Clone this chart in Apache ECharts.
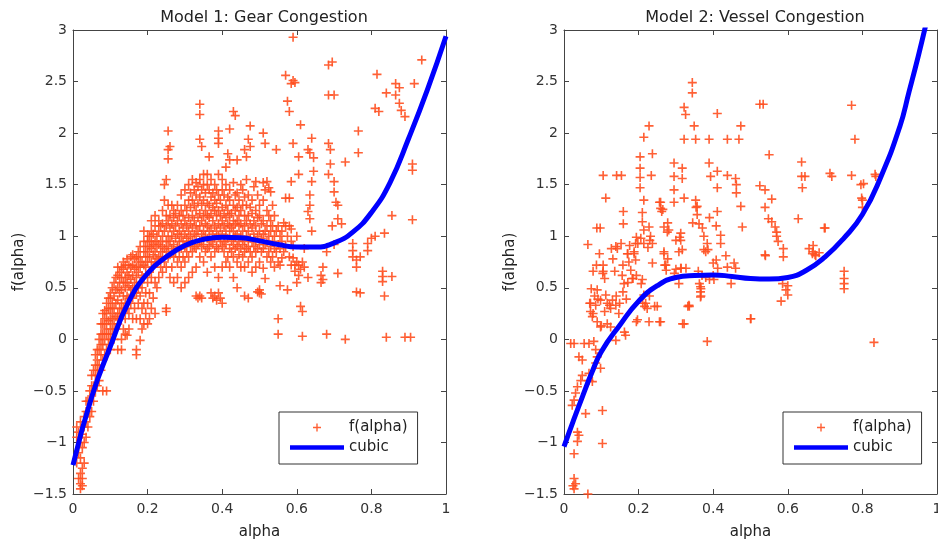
<!DOCTYPE html>
<html>
<head>
<meta charset="utf-8">
<script src="https://cdn.jsdelivr.net/npm/echarts@6/dist/echarts.min.js"></script>
<style>
html, body { margin: 0; padding: 0; background: #fff; }
#chart { width: 938px; height: 546px; }
</style>
</head>
<body>
<div id="chart"></div>
<script>
// titles / axes
var titles = ['Model 1: Gear Congestion', 'Model 2: Vessel Congestion'];
var xName = 'alpha', yName = 'f(alpha)';
var xTicks = [0, 0.2, 0.4, 0.6, 0.8, 1];
var yTicks = [-1.5, -1, -0.5, 0, 0.5, 1, 1.5, 2, 2.5, 3];

// Model 1 scatter, grouped by alpha column: [alpha, [f values]]
var gearCols = [
  [0.01, [-1.2, -0.95, -0.85]],
  [0.015, [-1.35, -1.1, -0.9]],
  [0.02, [-1.45, -1.4, -1.3, -1.15, -1.0, -0.8]],
  [0.025, [-1.42, -1.35, -1.25, -1.05, -0.92]],
  [0.03, [-1.2, -1.0, -0.85, -0.75]],
  [0.035, [-0.95, -0.8, -0.7, -0.6]],
  [0.04, [-0.85, -0.7, -0.6]],
  [0.045, [-0.75, -0.6, -0.5]],
  [0.05, [-0.7, -0.55, -0.45, -0.35]],
  [0.055, [-0.6, -0.45, -0.3]],
  [0.06, [-0.5, -0.35, -0.25, -0.15]],
  [0.065, [-0.45, -0.3, -0.2, -0.1]],
  [0.07, [-0.4, -0.25, -0.1, 0.0]],
  [0.075, [-0.3, -0.15, -0.05, 0.05, 0.15]],
  [0.08, [-0.5, -0.2, -0.05, 0.05, 0.15, 0.25]],
  [0.085, [-0.15, 0.0, 0.1, 0.2, 0.28]],
  [0.09, [-0.5, -0.1, 0.05, 0.15, 0.25, 0.35]],
  [0.095, [-0.05, 0.05, 0.18, 0.3, 0.4]],
  [0.1, [-0.1, 0.0, 0.1, 0.2, 0.3, 0.4, 0.45]],
  [0.105, [0.05, 0.15, 0.25, 0.35, 0.5]],
  [0.11, [0.0, 0.1, 0.2, 0.3, 0.42, 0.55]],
  [0.115, [0.1, 0.22, 0.35, 0.48, 0.6]],
  [0.12, [-0.1, 0.15, 0.25, 0.38, 0.5, 0.62, 0.7]],
  [0.125, [0.2, 0.3, 0.45, 0.55, 0.65]],
  [0.13, [-0.1, 0.0, 0.25, 0.35, 0.48, 0.6, 0.7]],
  [0.135, [0.1, 0.3, 0.42, 0.55, 0.68, 0.75]],
  [0.14, [0.05, 0.2, 0.35, 0.5, 0.6, 0.72]],
  [0.145, [0.04, 0.3, 0.42, 0.55, 0.65, 0.78]],
  [0.15, [0.1, 0.25, 0.4, 0.52, 0.62, 0.72]],
  [0.155, [0.35, 0.48, 0.58, 0.7, 0.8]],
  [0.16, [0.2, 0.4, 0.5, 0.62, 0.72, 0.82]],
  [0.165, [0.3, 0.45, 0.55, 0.68, 0.78]],
  [0.17, [-0.15, -0.1, 0.2, 0.45, 0.6, 0.7, 0.8]],
  [0.175, [0.35, 0.5, 0.65, 0.75, 0.85]],
  [0.18, [-0.01, 0.2, 0.42, 0.55, 0.7, 0.8, 0.9]],
  [0.185, [0.1, 0.3, 0.5, 0.62, 0.75]],
  [0.19, [0.15, 0.35, 0.6, 0.72, 0.85, 0.95, 1.05]],
  [0.195, [0.25, 0.45, 0.7, 0.8, 0.9]],
  [0.2, [0.15, 0.35, 0.55, 0.75, 0.85, 0.95, 1.0]],
  [0.205, [0.2, 0.45, 0.65, 0.8, 0.9, 1.0]],
  [0.21, [0.3, 0.6, 0.75, 0.88, 0.95, 1.05, 1.15]],
  [0.215, [0.4, 0.7, 0.82, 0.92, 1.02]],
  [0.22, [0.25, 0.55, 0.75, 0.85, 0.95, 1.1, 1.2]],
  [0.225, [0.5, 0.78, 0.9, 1.0]],
  [0.23, [0.6, 0.8, 0.92, 1.05, 1.15]],
  [0.235, [0.7, 0.85, 0.95, 1.1]],
  [0.24, [0.65, 0.8, 0.9, 1.0, 1.12, 1.25]],
  [0.245, [0.75, 0.88, 1.05, 1.35, 1.5]],
  [0.25, [0.27, 0.3, 0.7, 0.85, 0.95, 1.1, 1.2, 1.55]],
  [0.255, [0.8, 0.9, 1.0, 1.15, 1.3, 1.75, 1.84, 2.02]],
  [0.26, [0.6, 0.82, 0.95, 1.08, 1.2, 1.87]],
  [0.265, [0.7, 0.88, 1.0, 1.12, 1.3]],
  [0.27, [0.55, 0.8, 0.92, 1.05, 1.18, 1.25]],
  [0.275, [0.85, 0.98, 1.1, 1.22]],
  [0.28, [0.6, 0.75, 0.9, 1.02, 1.15, 1.3]],
  [0.285, [0.8, 0.95, 1.05, 1.2]],
  [0.29, [0.5, 0.7, 0.88, 1.0, 1.12, 1.25, 1.4]],
  [0.295, [0.8, 0.95, 1.08, 1.2]],
  [0.3, [0.55, 0.75, 0.9, 1.02, 1.15, 1.3, 1.45]],
  [0.305, [0.85, 0.98, 1.1, 1.25]],
  [0.31, [0.6, 0.8, 0.95, 1.05, 1.18, 1.35, 1.5]],
  [0.315, [0.9, 1.0, 1.12, 1.28, 1.42]],
  [0.32, [0.65, 0.85, 0.95, 1.08, 1.2, 1.35, 1.55]],
  [0.325, [0.9, 1.02, 1.15, 1.3, 1.45]],
  [0.33, [0.42, 0.7, 0.88, 1.0, 1.1, 1.25, 1.4, 1.52]],
  [0.335, [0.4, 0.92, 1.05, 1.18, 1.32, 1.48]],
  [0.34, [0.42, 0.8, 0.95, 1.1, 1.22, 1.38, 1.55, 1.94, 2.18, 2.28]],
  [0.345, [0.4, 0.9, 1.02, 1.15, 1.3, 1.45, 1.87]],
  [0.35, [0.75, 0.92, 1.05, 1.2, 1.35, 1.5, 1.6]],
  [0.355, [0.85, 1.0, 1.12, 1.25, 1.42]],
  [0.36, [0.65, 0.88, 0.98, 1.1, 1.2, 1.32, 1.5, 1.6]],
  [0.365, [0.9, 1.05, 1.18, 1.3, 1.45, 1.77]],
  [0.37, [0.45, 0.8, 0.95, 1.08, 1.22, 1.38, 1.55]],
  [0.375, [0.4, 0.92, 1.02, 1.15, 1.28, 1.42]],
  [0.38, [0.42, 0.7, 0.85, 0.98, 1.1, 1.25, 1.35, 1.5]],
  [0.385, [0.38, 0.9, 1.05, 1.2, 1.32, 1.45]],
  [0.39, [0.45, 0.6, 0.88, 1.0, 1.12, 1.25, 1.4, 1.6, 1.9, 1.95, 2.02]],
  [0.395, [0.4, 0.95, 1.08, 1.2, 1.35]],
  [0.4, [0.35, 0.7, 0.9, 1.02, 1.15, 1.28, 1.45, 1.55]],
  [0.405, [0.85, 0.95, 1.1, 1.22, 1.4]],
  [0.41, [0.75, 0.92, 1.05, 1.18, 1.3, 1.5, 1.67]],
  [0.415, [0.8, 0.98, 1.12, 1.25, 1.38, 1.8]],
  [0.42, [0.7, 0.88, 1.0, 1.1, 1.2, 1.35, 1.45, 1.74, 2.04]],
  [0.425, [0.85, 0.95, 1.08, 1.22]],
  [0.43, [0.6, 0.8, 0.92, 1.05, 1.15, 1.3, 1.52, 2.21]],
  [0.435, [0.88, 1.0, 1.12, 1.25, 1.4, 2.17]],
  [0.44, [0.5, 0.75, 0.9, 1.02, 1.15, 1.28, 1.42, 1.74]],
  [0.445, [0.82, 0.95, 1.1, 1.2, 1.35]],
  [0.45, [0.7, 0.88, 1.0, 1.12, 1.25, 1.5]],
  [0.455, [0.8, 0.92, 1.05, 1.3, 1.45]],
  [0.46, [0.42, 0.7, 0.85, 0.95, 1.1, 1.2, 1.38, 1.84]],
  [0.465, [0.88, 1.0, 1.15, 1.3, 1.55, 1.77]],
  [0.47, [0.4, 0.75, 0.9, 1.05, 1.2, 1.4, 1.94]],
  [0.475, [0.85, 0.98, 1.12, 1.28, 1.87, 2.07]],
  [0.48, [0.65, 0.8, 0.95, 1.08, 1.22, 1.35]],
  [0.485, [0.9, 1.02, 1.15, 1.48]],
  [0.49, [0.7, 0.85, 0.95, 1.1, 1.25, 1.53]],
  [0.495, [0.46, 0.88, 1.0, 1.18, 1.4]],
  [0.5, [0.45, 0.48, 0.75, 0.92, 1.05, 1.2, 1.3]],
  [0.505, [0.44, 0.85, 0.98, 1.12]],
  [0.51, [0.69, 0.88, 1.02, 1.15, 1.35, 1.52, 2.0]],
  [0.515, [0.59, 0.92, 1.05, 1.45, 1.9]],
  [0.52, [0.8, 0.95, 1.1, 1.25, 1.53]],
  [0.525, [0.85, 1.0, 1.2, 1.47]],
  [0.53, [0.75, 0.9, 1.05, 1.15, 1.43]],
  [0.535, [0.8, 0.95, 1.1, 1.3]],
  [0.54, [0.7, 0.88, 1.0, 1.2]],
  [0.545, [0.85, 1.05, 1.84]],
  [0.55, [0.05, 0.2, 0.75, 0.92, 1.1]],
  [0.555, [0.52, 0.72, 0.88, 1.0]],
  [0.56, [0.79, 0.95, 1.05]],
  [0.565, [0.85, 1.13]],
  [0.57, [0.9, 1.1, 1.37, 2.56]],
  [0.575, [0.48, 1.0, 2.31]],
  [0.58, [0.8, 1.1, 1.37, 2.21]],
  [0.585, [0.72, 0.95, 1.07, 1.53, 2.48]],
  [0.59, [0.79, 0.9, 1.9, 2.51, 2.93]],
  [0.595, [0.72, 0.66, 2.49]],
  [0.6, [0.75, 0.55, 1.0]],
  [0.605, [0.72, 0.62, 1.77, 1.6]],
  [0.61, [0.68, 0.32, 2.08]],
  [0.615, [0.27, 0.03, 0.75]],
  [0.62, [0.7, 0.88]],
  [0.63, [1.24, 1.84, 0.6]],
  [0.635, [1.17, 1.3, 1.4, 1.81]],
  [0.64, [1.53, 1.95, 1.05]],
  [0.645, [1.63, 1.76]],
  [0.665, [0.62, 0.55]],
  [0.67, [0.7, 0.58]],
  [0.68, [0.05, 0.85]],
  [0.685, [1.9, 1.6, 2.37, 2.66]],
  [0.69, [1.70, 1.84]],
  [0.695, [1.10, 2.69]],
  [0.70, [1.53, 1.43, 2.37, 0.92]],
  [0.705, [1.33]],
  [0.71, [1.17, 1.30, 0.64]],
  [0.72, [1.12]],
  [0.73, [1.72, 0.0]],
  [0.75, [0.93, 0.86, 0.8]],
  [0.76, [0.70, 0.46, 0.77]],
  [0.765, [2.02, 1.81]],
  [0.77, [0.8, 0.45]],
  [0.79, [0.86, 0.93]],
  [0.80, [0.98]],
  [0.81, [2.24, 1.0]],
  [0.815, [2.57]],
  [0.82, [2.21]],
  [0.83, [0.66, 0.61, 0.56]],
  [0.835, [0.42, 1.03]],
  [0.84, [2.39, 0.02]],
  [0.855, [0.61, 1.2]],
  [0.865, [2.48, 2.37]],
  [0.875, [2.44, 2.29]],
  [0.88, [2.22]],
  [0.89, [2.16, 0.02]],
  [0.905, [0.02]],
  [0.91, [1.16, 1.7, 1.64]],
  [0.915, [2.48]],
  [0.935, [2.71]]
];

// Model 2 scatter: [alpha, f]
var vesselPts = [
  [0.344, 2.49], [0.344, 2.39], [0.322, 2.25], [0.326, 2.18], [0.411, 2.19], [0.228, 2.07], [0.474, 2.07],
  [0.214, 1.96], [0.349, 2.07], [0.322, 1.94], [0.353, 1.94], [0.389, 1.94], [0.438, 1.94], [0.469, 1.94],
  [0.237, 1.80], [0.204, 1.77], [0.204, 1.66], [0.204, 1.57], [0.204, 1.47],
  [0.295, 1.71], [0.295, 1.58], [0.295, 1.45], [0.295, 1.33], [0.317, 1.66], [0.317, 1.56],
  [0.389, 1.71], [0.393, 1.58], [0.411, 1.63], [0.411, 1.47], [0.438, 1.59], [0.46, 1.56], [0.462, 1.50], [0.462, 1.42],
  [0.105, 1.59], [0.141, 1.59], [0.154, 1.59], [0.234, 1.59], [0.112, 1.37], [0.214, 1.35],
  [0.259, 1.33], [0.259, 1.27], [0.262, 1.24], [0.322, 1.37],
  [0.353, 1.35], [0.357, 1.29], [0.357, 1.21], [0.362, 1.12], [0.371, 1.08], [0.375, 1.0], [0.384, 0.93], [0.386, 0.87],
  [0.474, 1.29], [0.478, 1.09], [0.411, 1.24], [0.159, 1.24], [0.159, 1.12], [0.21, 1.23], [0.21, 1.14],
  [0.088, 1.08], [0.097, 1.08], [0.064, 0.92], [0.214, 1.06], [0.228, 1.09], [0.232, 1.0],
  [0.268, 1.09], [0.277, 1.04], [0.281, 1.06], [0.313, 1.03], [0.313, 0.96], [0.42, 1.01], [0.42, 0.93],
  [0.206, 0.98], [0.214, 0.93], [0.237, 0.93], [0.192, 0.93], [0.188, 0.85], [0.139, 0.9], [0.143, 0.88],
  [0.268, 0.85], [0.317, 0.87], [0.375, 0.87],
  [0.525, 2.28], [0.534, 2.28], [0.771, 2.27], [0.78, 1.94], [0.55, 1.79], [0.637, 1.72], [0.637, 1.58], [0.646, 1.58], [0.639, 1.47],
  [0.525, 1.49], [0.539, 1.45], [0.557, 1.36], [0.539, 1.28], [0.548, 1.17], [0.557, 1.14], [0.566, 1.09], [0.57, 1.04], [0.57, 1.0], [0.574, 0.95],
  [0.628, 1.17], [0.713, 1.61], [0.718, 1.58], [0.771, 1.59], [0.803, 1.51], [0.798, 1.37], [0.834, 1.6], [0.7, 1.08],
  [0.539, 0.82], [0.588, 0.88], [0.588, 0.8], [0.668, 0.91], [0.668, 0.85], [0.673, 0.82],
  [0.105, 0.72], [0.105, 0.66], [0.156, 0.62], [0.161, 0.54], [0.17, 0.83], [0.174, 0.75], [0.179, 0.67], [0.183, 0.59],
  [0.188, 0.83], [0.192, 0.77], [0.237, 0.74], [0.21, 0.58], [0.268, 0.83], [0.273, 0.72], [0.308, 0.85], [0.313, 0.69],
  [0.38, 0.85], [0.438, 0.70], [0.456, 0.74], [0.46, 0.69],
  [0.089, 0.48], [0.098, 0.38], [0.085, 0.33], [0.071, 0.35], [0.071, 0.27], [0.076, 0.22], [0.112, 0.43], [0.116, 0.35], [0.125, 0.3],
  [0.13, 0.38], [0.139, 0.33], [0.147, 0.25], [0.089, 0.17], [0.098, 0.12], [0.116, 0.15], [0.125, 0.12],
  [0.214, 0.43], [0.219, 0.35], [0.223, 0.3], [0.25, 0.32], [0.228, 0.17], [0.259, 0.17], [0.197, 0.19], [0.165, 0.04], [0.139, -0.01],
  [0.335, 0.33], [0.322, 0.15], [0.308, 0.54], [0.366, 0.51], [0.366, 0.46], [0.366, 0.41], [0.402, 0.58], [0.384, -0.02], [0.5, 0.2],
  [0.018, -0.04], [0.027, -0.04], [0.054, -0.04], [0.067, -0.04], [0.08, -0.02],
  [0.04, -0.17], [0.049, -0.2], [0.085, -0.1], [0.089, -0.17], [0.085, -0.23],
  [0.049, -0.35], [0.045, -0.4], [0.036, -0.46], [0.067, -0.33], [0.067, -0.4], [0.098, -0.28], [0.076, -0.41],
  [0.031, -0.52], [0.027, -0.59], [0.022, -0.64], [0.058, -0.72], [0.103, -0.69],
  [0.036, -0.9], [0.04, -0.93], [0.036, -0.99], [0.027, -1.11], [0.103, -1.01],
  [0.027, -1.35], [0.031, -1.4], [0.027, -1.45], [0.064, -1.5], [0.024, -1.42],
  [0.586, 0.54], [0.595, 0.48], [0.6, 0.52], [0.6, 0.43], [0.582, 0.37], [0.751, 0.66], [0.751, 0.59], [0.751, 0.54], [0.751, 0.49],
  [0.831, -0.03], [0.8, 1.35], [0.8, 1.28], [0.796, 1.5], [0.836, 1.58], [0.698, 1.08],
  [0.657, 0.88], [0.666, 0.83], [0.675, 0.81], [0.684, 0.84], [0.54, 0.81], [0.501, 0.2], [0.434, 0.81], [0.448, 0.54],
  [0.4, 0.74], [0.408, 0.77], [0.412, 0.69], [0.367, 0.49], [0.367, 0.42], [0.363, 0.54], [0.332, 0.32], [0.336, 0.32], [0.318, 0.15], [0.296, 0.64],
  [0.211, 0.35], [0.216, 0.32], [0.229, 0.42], [0.243, 0.32], [0.256, 0.17], [0.194, 0.17], [0.162, 0.07],
  [0.27, 0.72], [0.274, 0.67], [0.278, 0.78], [0.3, 0.68], [0.314, 0.69], [0.327, 0.69],
  [0.37, 0.62], [0.38, 0.6], [0.39, 0.58], [0.4, 0.62], [0.36, 0.66],
  [0.408, 1.10], [0.39, 1.18], [0.354, 1.28], [0.345, 1.13], [0.31, 0.99], [0.3, 0.96], [0.278, 1.13], [0.265, 1.26], [0.256, 1.33],
  [0.23, 0.96], [0.225, 0.89], [0.194, 0.99], [0.198, 0.93], [0.176, 0.91], [0.171, 0.83], [0.153, 0.93], [0.158, 0.72],
  [0.127, 0.88], [0.131, 0.78], [0.136, 0.66], [0.095, 0.83], [0.087, 0.72], [0.078, 0.66], [0.104, 0.64], [0.109, 0.59],
  [0.073, 0.49], [0.082, 0.42], [0.091, 0.39], [0.069, 0.35], [0.078, 0.25], [0.122, 0.33], [0.171, 0.55], [0.185, 0.59],
  [0.194, 0.62], [0.207, 0.54], [0.158, 0.46], [0.167, 0.39], [0.14, 0.42], [0.149, 0.35], [0.109, 0.27], [0.1, 0.13]
];

// fitted cubic curves
var gearCurveX = [0, 0.05, 0.1, 0.15, 0.2, 0.25, 0.3, 0.35, 0.4, 0.45, 0.5, 0.55, 0.6, 0.65, 0.7, 0.75, 0.8, 0.85, 0.9, 0.95, 1];
var gearCurveY = [-1.22, -0.56, -0.07, 0.37, 0.64, 0.8, 0.91, 0.97, 0.99, 0.985, 0.955, 0.92, 0.895, 0.895, 0.935, 1.04, 1.23, 1.52, 1.95, 2.42, 2.94];
var vesselCurveX = [0, 0.025, 0.05, 0.075, 0.1, 0.15, 0.2, 0.25, 0.3, 0.35, 0.4, 0.45, 0.5, 0.55, 0.6, 0.65, 0.7, 0.75, 0.8, 0.85, 0.9, 0.925, 0.95, 0.97];
var vesselCurveY = [-1.04, -0.79, -0.55, -0.32, -0.12, 0.14, 0.37, 0.52, 0.6, 0.62, 0.625, 0.61, 0.59, 0.585, 0.6, 0.67, 0.8, 0.98, 1.21, 1.58, 2.06, 2.4, 2.75, 3.05];

var FONT = 'DejaVu Sans';
var plusSymbol = 'path://M0,4.1H10V5.9H0ZM4.1,0H5.9V10H4.1Z';
var plusIcon = 'path://M0,0M54,14M23,6.3H31V7.7H23ZM26.3,3H27.7V11H26.3Z';
var lineIcon = 'path://M0,0M54,14M0,4.8H54V9.2H0Z';
var gridLefts = [73, 564];

function flatten(cols) {
  var out = [];
  cols.forEach(function (c) { c[1].forEach(function (v) { out.push([c[0], v]); }); });
  return out;
}
function zip(xs, ys) { return xs.map(function (x, i) { return [x, ys[i]]; }); }

var scatterData = [flatten(gearCols), vesselPts];
var curveData = [zip(gearCurveX, gearCurveY), zip(vesselCurveX, vesselCurveY)];

var grid = [], xAxis = [], yAxis = [], series = [], title = [], legend = [];
var axisLine = { show: true, onZero: false, lineStyle: { color: '#444', width: 1 } };
var tick = { show: true, inside: true, length: 5, lineStyle: { color: '#444' } };

for (var i = 0; i < 2; i++) {
  grid.push({ left: gridLefts[i], top: 30, width: 373, height: 464, containLabel: false, outerBoundsMode: 'none' });
  title.push({
    text: titles[i], left: gridLefts[i] + 186, top: 5, textAlign: 'center',
    textStyle: { fontFamily: FONT, fontSize: 16, fontWeight: 'normal', color: '#222' }
  });
  xAxis.push({
    type: 'value', gridIndex: i, position: 'bottom', min: xTicks[0], max: xTicks[xTicks.length - 1], interval: 0.2,
    name: xName, nameLocation: 'middle', nameGap: 31,
    nameTextStyle: { fontFamily: FONT, fontSize: 15, color: '#222' },
    axisLine: axisLine, axisTick: tick, splitLine: { show: false },
    axisLabel: { margin: 8, fontFamily: FONT, fontSize: 14, color: '#333' }
  });
  xAxis.push({
    type: 'value', gridIndex: i, position: 'top', min: xTicks[0], max: xTicks[xTicks.length - 1], interval: 0.2,
    axisLine: axisLine, axisTick: tick, splitLine: { show: false }, axisLabel: { show: false }
  });
  yAxis.push({
    type: 'value', gridIndex: i, position: 'left', min: yTicks[0], max: yTicks[yTicks.length - 1], interval: 0.5,
    name: yName, nameLocation: 'middle', nameGap: 46,
    nameTextStyle: { fontFamily: FONT, fontSize: 15, color: '#222' },
    axisLine: axisLine, axisTick: tick, splitLine: { show: false },
    axisLabel: {
      margin: 6, fontFamily: FONT, fontSize: 14, color: '#333',
      formatter: function (v) { return String(v).replace('-', '\u2212'); }
    }
  });
  yAxis.push({
    type: 'value', gridIndex: i, position: 'right', min: yTicks[0], max: yTicks[yTicks.length - 1], interval: 0.5,
    axisLine: axisLine, axisTick: tick, splitLine: { show: false }, axisLabel: { show: false }
  });
  series.push({
    name: 'f(alpha)', type: 'scatter', xAxisIndex: i * 2, yAxisIndex: i * 2,
    symbol: plusSymbol, symbolSize: 9, data: scatterData[i],
    itemStyle: { color: '#ff4f1f', opacity: 0.9 }, z: 2
  });
  series.push({
    name: 'cubic', type: 'line', xAxisIndex: i * 2, yAxisIndex: i * 2,
    data: curveData[i], smooth: true, showSymbol: false, symbol: 'none',
    lineStyle: { color: '#0000ff', width: 5 }, itemStyle: { color: '#0000ff' }, z: 3
  });
  legend.push({
    orient: 'vertical', left: [279, 783][i], top: 412,
    itemWidth: 54, itemHeight: 14, itemGap: 5, padding: [8, 10, 9, 11],
    borderColor: '#333', borderWidth: 1, backgroundColor: '#fff',
    itemStyle: { borderWidth: 0 },
    textStyle: { fontFamily: FONT, fontSize: 15, color: '#222' },
    data: [{ name: 'f(alpha)', icon: plusIcon }, { name: 'cubic', icon: lineIcon }]
  });
}

var chart = echarts.init(document.getElementById('chart'), null, { renderer: 'canvas' });
chart.setOption({
  animation: false,
  backgroundColor: '#fff',
  title: title, legend: legend, grid: grid, xAxis: xAxis, yAxis: yAxis, series: series
});
</script>
</body>
</html>
